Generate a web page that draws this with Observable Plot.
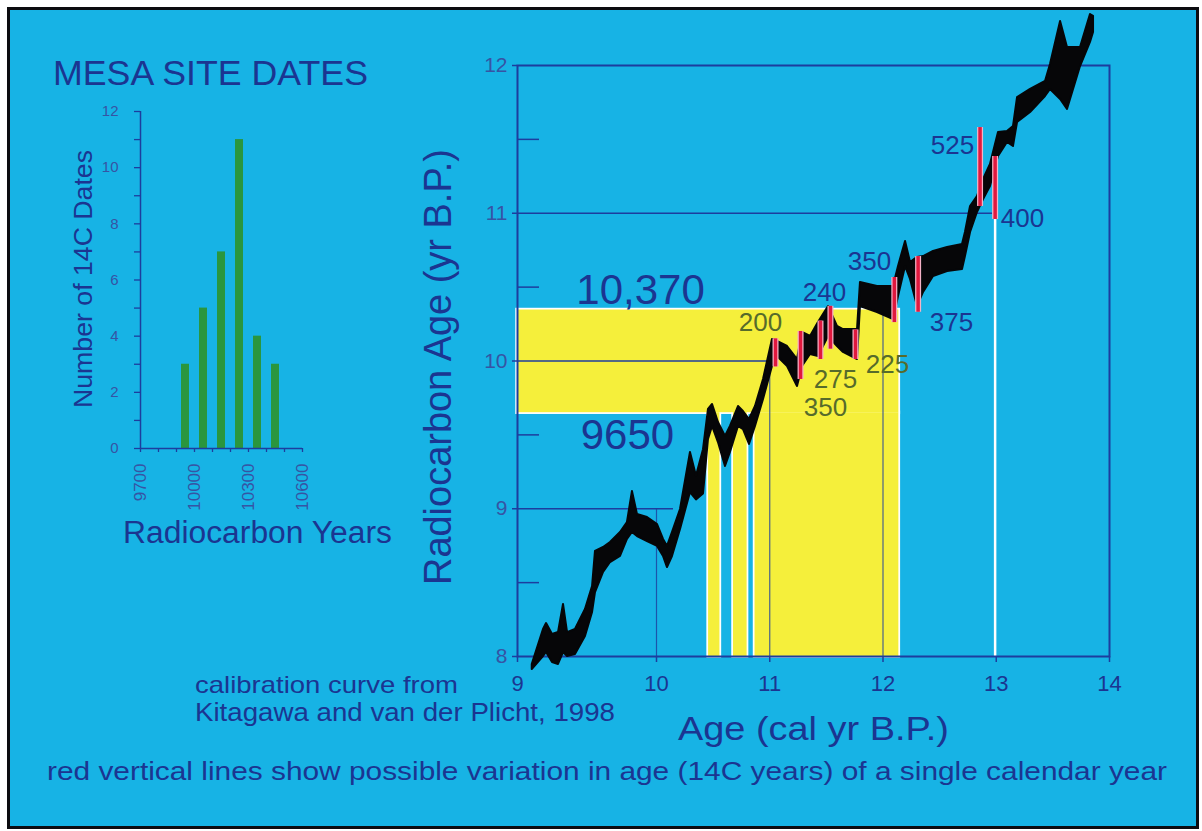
<!DOCTYPE html>
<html>
<head>
<meta charset="utf-8">
<script src="https://cdn.jsdelivr.net/npm/d3@7"></script>
<script src="https://cdn.jsdelivr.net/npm/@observablehq/plot@0.6"></script>
<style>
html,body{margin:0;padding:0;background:#fff;}
#page{position:relative;width:1202px;height:831px;overflow:hidden;background:#fff;}
#frame{position:absolute;left:7px;top:7px;width:1186px;height:816px;border:3px solid #0c0c10;background:#17b3e5;}
#page svg{position:absolute;left:0;top:0;overflow:visible;}
</style>
</head>
<body>
<div id="page"><div id="frame"></div></div>
<script>
// ================= DATA =================
// Histogram: MESA site radiocarbon dates (100-yr bins)
const binStart = [9900, 10000, 10100, 10200, 10300, 10400];
const binCount = [3, 5, 7, 11, 4, 3];
const histXTicks = [9700, 10000, 10300, 10600];
const histXMinor = [9700, 9800, 9900, 10000, 10100, 10200, 10300, 10400, 10500, 10600];
const histYTicks = [0, 1, 2, 3, 4, 5, 6, 7, 8, 9, 10, 11, 12];
const histYLabels = [0, 2, 4, 6, 8, 10, 12];

// Calibration curve (cal kyr B.P. vs 14C kyr B.P.), lower and upper edge of the band
const calX = [9.106, 9.187, 9.209, 9.252, 9.295, 9.331, 9.360, 9.417, 9.489, 9.540, 9.561, 9.619, 9.669, 9.741, 9.791, 9.827, 9.863, 9.935, 10.009, 10.062, 10.097, 10.141, 10.212, 10.300, 10.353, 10.415, 10.459, 10.495, 10.547, 10.609, 10.653, 10.724, 10.768, 10.821, 10.874, 10.945, 11.024, 11.068, 11.157, 11.245, 11.289, 11.360, 11.430, 11.519, 11.598, 11.651, 11.775, 11.801, 11.951, 12.093, 12.137, 12.199, 12.243, 12.305, 12.358, 12.446, 12.570, 12.702, 12.728, 12.773, 12.834, 12.887, 12.949, 13.020, 13.099, 13.152, 13.188, 13.303, 13.435, 13.479, 13.568, 13.629, 13.744, 13.832, 13.859];
const calLo = [7.912, 8.000, 8.027, 7.959, 7.946, 8.027, 8.000, 8.014, 8.135, 8.298, 8.433, 8.569, 8.636, 8.677, 8.792, 8.839, 8.812, 8.778, 8.745, 8.677, 8.602, 8.677, 8.860, 9.110, 9.060, 9.100, 9.469, 9.557, 9.448, 9.286, 9.381, 9.557, 9.536, 9.435, 9.557, 9.739, 9.963, 10.030, 9.963, 9.827, 9.963, 10.044, 10.030, 10.166, 10.098, 10.058, 10.010, 10.369, 10.328, 10.281, 10.437, 10.640, 10.552, 10.369, 10.464, 10.572, 10.606, 10.619, 10.707, 10.870, 11.005, 11.091, 11.181, 11.384, 11.479, 11.452, 11.614, 11.682, 11.790, 11.838, 11.770, 11.702, 11.993, 12.156, 12.223];
const calHi = [7.946, 8.183, 8.223, 8.149, 8.162, 8.352, 8.162, 8.183, 8.318, 8.474, 8.711, 8.738, 8.772, 8.839, 8.907, 9.117, 8.961, 8.941, 8.893, 8.792, 8.745, 8.839, 8.995, 9.381, 9.220, 9.400, 9.672, 9.706, 9.584, 9.489, 9.557, 9.692, 9.658, 9.604, 9.692, 9.875, 10.146, 10.132, 10.098, 10.010, 10.193, 10.166, 10.261, 10.369, 10.234, 10.213, 10.213, 10.531, 10.504, 10.504, 10.640, 10.809, 10.667, 10.701, 10.707, 10.741, 10.768, 10.789, 10.870, 11.046, 11.113, 11.228, 11.330, 11.546, 11.553, 11.587, 11.783, 11.838, 11.892, 12.007, 12.298, 12.122, 12.122, 12.345, 12.332];

// Red markers: 14C range of a single calendar year
const markX = [11.051, 11.272, 11.448, 11.536, 11.757, 12.100, 12.310, 12.857, 12.990];
const markLo = [9.960, 9.875, 10.010, 10.080, 10.010, 10.260, 10.330, 11.046, 10.958];
const markHi = [10.150, 10.200, 10.270, 10.370, 10.210, 10.565, 10.707, 11.580, 11.384];

// Annotation labels
const labText = ["10,370", "9650", "200", "240", "350", "275", "350", "225", "375", "525", "400"];
const labX = [9.885, 9.791, 10.918, 11.483, 11.881, 11.581, 11.492, 12.040, 12.605, 12.614, 13.232];
const labY = [10.475, 9.496, 10.261, 10.464, 10.673, 9.875, 9.685, 9.976, 10.261, 11.459, 10.964];
const labOnYellow = [false, false, true, false, false, true, true, true, false, false, false];
const labBig = [true, true, false, false, false, false, false, false, false, false, false];

// Yellow calibrated ranges (radiocarbon band and calendar intervals)
const yelX1 = [9.00, 10.46, 10.68, 10.87];
const yelX2 = [12.14, 10.56, 10.80, 12.14];
const yelY1 = [9.65, 8.00, 8.00, 8.00];
const yelY2 = [10.345, 9.65, 9.65, 9.65];

// Guide lines from the axes to the curve
const hGuideY = [9, 10, 11];
const hGuideX2 = [10.15, 10.98, 12.97];
const vGuideX = [10, 11, 12];
const vGuideY2 = [9, 10, 10.33];
const whiteGuideX = [12.99];
const whiteGuideY2 = [10.96];

const mainXTicks = [9, 10, 11, 12, 13, 14];
const mainYTicks = [8, 9, 10, 11, 12];
const mainYMinor = [8.5, 9.5, 10.5, 11.5];

// ================= STYLE =================
const FONT = '"Liberation Sans", Arial, Helvetica, sans-serif';
const NAVY = "#1b3591";
const AXIS = "#1d3d9e";
const TICKTXT = "#3654a4";
const OLIVE = "#566b2b";
const YELLOW = "#f5ef3b";
const GREEN = "#2a963e";
const RED = "#e0183e";

// ================= TABLES =================
const hist = binStart.map((s, i) => ({start: s, end: s + 100, count: binCount[i]}));
const cal = calX.map((x, i) => ({x, lo: calLo[i], hi: calHi[i]}));
const markers = markX.map((x, i) => ({x, lo: markLo[i], hi: markHi[i]}));
const labels = labText.map((t, i) => ({t, x: labX[i], y: labY[i], yel: labOnYellow[i], big: labBig[i]}));
const yellow = yelX1.map((x1, i) => ({x1, x2: yelX2[i], y1: yelY1[i], y2: yelY2[i]}));
const hGuides = hGuideY.map((y, i) => ({y, x2: hGuideX2[i]}));
const vGuides = vGuideX.map((x, i) => ({x, y2: vGuideY2[i]}));
const wGuides = whiteGuideX.map((x, i) => ({x, y2: whiteGuideY2[i]}));

const page = document.getElementById("page");

// ================= MAIN CHART =================
const main = Plot.plot({
  width: 1202, height: 831,
  marginLeft: 517, marginRight: 93, marginTop: 65, marginBottom: 175,
  x: {type: "linear", domain: [9, 10, 14], range: [517, 656, 1109], axis: null},
  y: {type: "linear", domain: [8, 12], range: [656, 65], axis: null},
  style: {background: "transparent", overflow: "visible", fontFamily: FONT},
  marks: [
    Plot.rect(yellow, {x1: "x1", x2: "x2", y1: "y1", y2: "y2", fill: YELLOW, stroke: "white", strokeWidth: 3.5}),
    Plot.rect(yellow, {x1: "x1", x2: "x2", y1: "y1", y2: "y2", fill: YELLOW}),
    Plot.ruleY(hGuides, {y: "y", x1: 9, x2: "x2", stroke: AXIS, strokeWidth: 1.5}),
    Plot.ruleX(vGuides, {x: "x", y1: 8, y2: "y2", stroke: AXIS, strokeWidth: 1.2, strokeOpacity: 0.8}),
    Plot.ruleX(wGuides, {x: "x", y1: 8, y2: "y2", stroke: "white", strokeWidth: 2.5}),
    Plot.ruleY(mainYMinor, {insetRight: 570, stroke: AXIS, strokeWidth: 1.5}),
    Plot.frame({stroke: AXIS, strokeWidth: 2}),
    Plot.areaY(cal, {x: "x", y1: "lo", y2: "hi", fill: "#060608", stroke: "#060608", strokeWidth: 2, strokeLinejoin: "round"}),
    Plot.ruleX(markers, {x: "x", y1: "lo", y2: "hi", stroke: "#f4b2c6", strokeWidth: 6}),
    Plot.ruleX(markers, {x: "x", y1: "lo", y2: "hi", stroke: RED, strokeWidth: 3.5}),
    Plot.text(labels.filter(d => !d.big), {x: "x", y: "y", text: "t", fontSize: 26, fill: d => d.yel ? OLIVE : NAVY, lineAnchor: "middle"}),
    Plot.text(labels.filter(d => d.big), {x: "x", y: "y", text: "t", fontSize: 42, fill: NAVY, lineAnchor: "middle"}),
    Plot.axisX(mainXTicks, {anchor: "bottom", tickSize: 6, color: AXIS, strokeWidth: 1.5, tickFormat: () => "", label: null}),
    Plot.axisY(mainYTicks, {anchor: "left", tickSize: 5, color: AXIS, strokeWidth: 1.5, tickFormat: () => "", label: null}),
    Plot.text(mainXTicks, {x: d => d, y: 8, text: d => String(d), dy: 27, lineAnchor: "middle", fontSize: 22, fill: NAVY}),
    Plot.text(mainYTicks, {x: 9, y: d => d, text: d => String(d), dx: -10, textAnchor: "end", lineAnchor: "middle", fontSize: 21, fill: TICKTXT})
  ]
});
page.appendChild(main);

// ================= HISTOGRAM =================
const histPlot = Plot.plot({
  width: 420, height: 560,
  marginLeft: 140, marginRight: 118, marginTop: 111, marginBottom: 112,
  x: {type: "linear", domain: [9700, 10600], range: [140, 302], axis: null},
  y: {type: "linear", domain: [0, 12], range: [448, 111], axis: null},
  style: {background: "transparent", overflow: "visible", fontFamily: FONT},
  marks: [
    Plot.rectY(hist, {x1: "start", x2: "end", y1: 0, y2: "count", insetLeft: 5, insetRight: 5, fill: GREEN}),
    Plot.ruleX([9700], {y1: 0, y2: 12, stroke: AXIS, strokeWidth: 1.5}),
    Plot.ruleY([0], {x1: 9700, x2: 10600, stroke: AXIS, strokeWidth: 1.5}),
    Plot.axisY(histYTicks, {anchor: "left", tickSize: 6, strokeWidth: 1.3, color: AXIS, tickFormat: () => "", label: null}),
    Plot.axisX(histXMinor, {anchor: "bottom", tickSize: 4, strokeWidth: 1.3, color: AXIS, tickFormat: () => "", label: null}),
    Plot.text(histYLabels, {x: 9700, y: d => d, text: d => String(d), dx: -22, textAnchor: "end", lineAnchor: "middle", fontSize: 15, fill: TICKTXT}),
    Plot.text(histXTicks, {x: d => d, y: 0, text: d => String(d), rotate: -90, textAnchor: "end", lineAnchor: "middle", dy: 15, fontSize: 17, fill: TICKTXT})
  ]
});
page.appendChild(histPlot);

// ================= CAPTIONS =================
const captions = [
  {t: "MESA SITE DATES", x: 53, y: 85, size: 35, w: 315, color: NAVY},
  {t: "Number of 14C Dates", x: 92, y: 279, size: 25, w: 258, color: NAVY, rotate: true},
  {t: "Radiocarbon Years", x: 123, y: 543, size: 31, w: 269, color: NAVY},
  {t: "Radiocarbon Age (yr B.P.)", x: 451, y: 367, size: 38, w: 436, color: NAVY, rotate: true},
  {t: "Age (cal yr B.P.)", x: 678, y: 740, size: 34, w: 271, color: NAVY},
  {t: "calibration curve from", x: 195, y: 693, size: 24, w: 263, color: NAVY},
  {t: "Kitagawa and van der Plicht, 1998", x: 195, y: 721, size: 26, w: 420, color: NAVY},
  {t: "red vertical lines show possible variation in age (14C years) of a single calendar year", x: 47, y: 780, size: 25, w: 1120, color: NAVY}
];
const ov = d3.select(page).append("svg").attr("width", 1202).attr("height", 831).style("pointer-events", "none");
for (const c of captions) {
  const t = ov.append("text").text(c.t)
    .attr("font-family", FONT).attr("font-size", c.size).attr("fill", c.color)
    .attr("textLength", c.w).attr("lengthAdjust", "spacingAndGlyphs");
  if (c.rotate) t.attr("text-anchor", "middle").attr("transform", `translate(${c.x},${c.y}) rotate(-90)`);
  else t.attr("x", c.x).attr("y", c.y);
}
</script>
</body>
</html>
